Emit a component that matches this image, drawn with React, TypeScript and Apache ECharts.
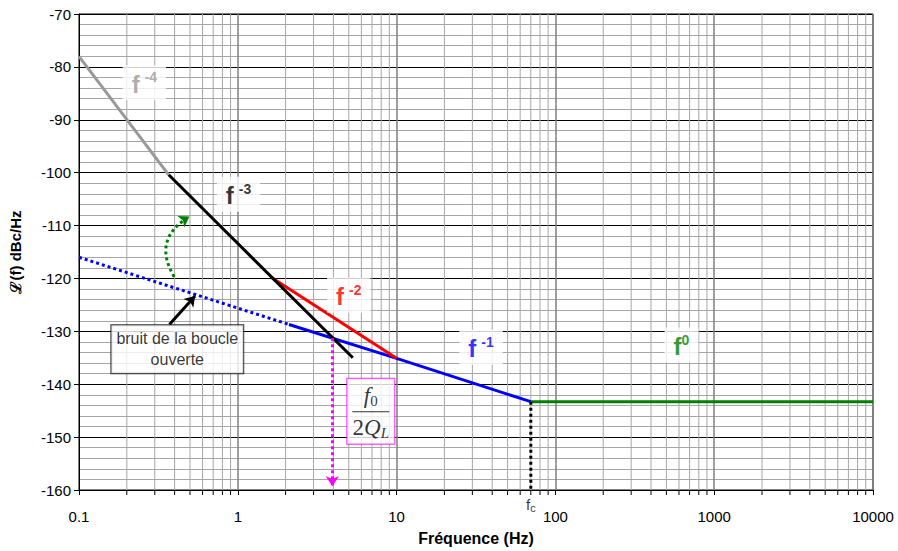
import React, { useEffect, useRef } from "react";
import * as echarts from "echarts";

// ---- data ----
const xMin = 0.1;
const xMax = 10000;
const yMin = -160;
const yMax = -70;
const yInterval = 10;
const minorFreqs = [
  0.2, 0.3, 0.4, 0.5, 0.6, 0.7, 0.8, 0.9,
  2, 3, 4, 5, 6, 7, 8, 9,
  20, 30, 40, 50, 60, 70, 80, 90,
  200, 300, 400, 500, 600, 700, 800, 900,
  2000, 3000, 4000, 5000, 6000, 7000, 8000, 9000,
];
const fc = 70;
const slopeF4 = [[0.1, -78], [0.367, -100.4]];
const slopeF3 = [[0.367, -100.4], [5.3, -135]];
const slopeF2 = [[1.63, -119.8], [10, -135.1]];
const openLoop = [[0.1, -116], [2.1, -128.7]];
const slopeF1 = [[2.1, -128.7], [10, -135.1], [70, -143.3]];
const slopeF0 = [[70, -143.3], [10000, -143.3]];
const fcDrop = [[70, -143.3], [70, -160]];
const magentaArrow = [[3.94, -131.3], [3.94, -159.3]];
const blackArrow = [[0.371, -128.7], [0.538, -123.3]];
const greenArrow = [[0.398, -119.7], [0.496, -108.3]];
const labelF4 = [0.258, -83];
const labelF3 = [1.01, -104.1];
const labelF2 = [5.0, -123.2];
const labelF1 = [34, -133];
const labelF0 = [622, -132.6];
const labelOpen = [0.416, -133.4];
const labelF0Q = [6.88, -145.1];

const FONT = "'Liberation Sans', Arial, sans-serif";
const SERIF = "'Liberation Serif', 'Times New Roman', serif";

function slopeLabel(pos: number[], color: string, sup: string, space: boolean) {
  return {
    value: pos,
    label: {
      show: true,
      position: "inside",
      formatter: `{b|f}${space ? "{sp|}" : ""}{s|${sup}}`,
      backgroundColor: "#ffffff",
      padding: [5, 9, 4, 9],
      rich: {
        b: { fontSize: 24, fontWeight: "bold", color, fontFamily: FONT, lineHeight: 26, verticalAlign: "bottom" },
        sp: { width: 5, lineHeight: 26 },
        s: { fontSize: 14, fontWeight: "bold", color, fontFamily: FONT, lineHeight: 26, verticalAlign: "top", padding: [0, 0, 10, 0] },
      },
    },
  };
}

export default function App() {
  const ref = useRef<HTMLDivElement>(null);
  useEffect(() => {
    document.body.style.margin = "0";
    const chart = echarts.init(ref.current!, null, { renderer: "svg" });
    const lineSeries = (data: number[][], color: string, type: string = "solid", z = 3) => ({
      type: "line",
      data,
      showSymbol: false,
      symbol: "none",
      silent: true,
      z,
      lineStyle: { color, width: 3, type },
    });
    const arrowSeries = (data: number[][], color: string, type: string, curveness = 0) => ({
      type: "lines",
      coordinateSystem: "cartesian2d",
      silent: true,
      z: 5,
      symbol: ["none", "arrow"],
      symbolSize: 10,
      data: [{ coords: data }],
      lineStyle: { color, width: 3, type, curveness, opacity: 1 },
    });
    chart.setOption({
      animation: false,
      grid: { left: 73, top: 14, width: 800, height: 476, show: true, borderColor: "#000", borderWidth: 1 },
      xAxis: {
        type: "log",
        logBase: 10,
        min: xMin,
        max: xMax,
        name: "Fréquence (Hz)",
        nameLocation: "middle",
        nameGap: 40,
        nameTextStyle: { fontSize: 16, fontWeight: "bold", color: "#000", fontFamily: FONT },
        axisLine: { show: true, lineStyle: { color: "#000", width: 1 } },
        axisTick: { show: true, length: 5, inside: false, lineStyle: { color: "#000" } },
        axisLabel: {
          fontSize: 15,
          color: "#000",
          fontFamily: FONT,
          margin: 19,
          formatter: (v: number) => (v < 1 ? v.toFixed(1) : String(Math.round(v))),
        },
        splitLine: { show: true, lineStyle: { color: "#7f7f7f", width: 1.5 } },
        minorTick: { show: false },
      },
      yAxis: {
        type: "value",
        min: yMin,
        max: yMax,
        interval: yInterval,
        name: "ℒ(f) dBc/Hz",
        nameLocation: "middle",
        nameGap: 56,
        nameTextStyle: { fontSize: 15, fontWeight: "bold", color: "#000", fontFamily: FONT },
        axisLine: { show: true, lineStyle: { color: "#000", width: 1 } },
        axisTick: { show: true, length: 5, inside: false, lineStyle: { color: "#000" } },
        axisLabel: { fontSize: 15, color: "#000", fontFamily: FONT, margin: 8 },
        splitLine: { show: true, lineStyle: { color: "#000", width: 1 } },
        minorTick: { show: false, splitNumber: 5 },
        minorSplitLine: { show: true, lineStyle: { color: "#a6a6a6", width: 1 } },
      },
      series: [
        {
          type: "custom",
          silent: true,
          clip: false,
          z: 1,
          data: minorFreqs.map((f) => [f, yMin]),
          encode: { x: 0, y: 1 },
          renderItem: (params: any, api: any) => {
            const f = api.value(0);
            const top = api.coord([f, yMax]);
            const bot = api.coord([f, yMin]);
            return {
              type: "group",
              children: [
                { type: "line", shape: { x1: top[0], y1: top[1], x2: bot[0], y2: bot[1] }, style: { stroke: "#a6a6a6", lineWidth: 1 } },
                { type: "line", shape: { x1: bot[0], y1: bot[1], x2: bot[0], y2: bot[1] + 5 }, style: { stroke: "#000", lineWidth: 1 } },
              ],
            };
          },
        },
        lineSeries(openLoop, "#0000ff", "dotted", 3),
        lineSeries(slopeF1, "#0000ff", "solid", 3),
        lineSeries(slopeF2, "#ff0000", "solid", 4),
        lineSeries(slopeF3, "#000000", "solid", 4),
        lineSeries(slopeF4, "#999999", "solid", 4),
        lineSeries(slopeF0, "#008000", "solid", 4),
        lineSeries(fcDrop, "#000000", "dotted", 4),
        arrowSeries(magentaArrow, "#ff00ff", "dotted"),
        arrowSeries(blackArrow, "#000000", "solid"),
        arrowSeries(greenArrow, "#008000", "dotted", 0.5),
        {
          type: "scatter",
          silent: true,
          symbolSize: 0,
          z: 10,
          data: [
            slopeLabel(labelF4, "#999999", "-4", true),
            slopeLabel(labelF3, "#000000", "-3", true),
            slopeLabel(labelF2, "#ff0000", "-2", true),
            slopeLabel(labelF1, "#0000ff", "-1", true),
            slopeLabel(labelF0, "#008000", "0", false),
            {
              value: labelOpen,
              label: {
                show: true,
                position: "inside",
                formatter: "bruit de la boucle\nouverte",
                backgroundColor: "#ffffff",
                borderColor: "#000",
                borderWidth: 1,
                padding: [3, 5, 3, 5],
                fontSize: 16,
                lineHeight: 21,
                color: "#000",
                fontFamily: FONT,
                align: "center",
              },
            },
            {
              value: labelF0Q,
              label: {
                show: true,
                position: "inside",
                formatter: "{fi|f}{sub|0}\n{bar|}\n{n|2}{fi|Q}{subi|L}",
                backgroundColor: "#ffffff",
                borderColor: "#ff00ff",
                borderWidth: 1,
                padding: [4, 5, 3, 5],
                align: "center",
                rich: {
                  fi: { fontSize: 23, fontStyle: "italic", fontFamily: SERIF, color: "#000", lineHeight: 26 },
                  n: { fontSize: 23, fontFamily: SERIF, color: "#000", lineHeight: 26 },
                  sub: { fontSize: 15, fontFamily: SERIF, color: "#000", lineHeight: 26, verticalAlign: "bottom" },
                  subi: { fontSize: 15, fontStyle: "italic", fontFamily: SERIF, color: "#000", lineHeight: 26, verticalAlign: "bottom" },
                  bar: { width: 37, height: 1, backgroundColor: "#000", lineHeight: 6 },
                },
              },
            },
            {
              value: [fc, yMin],
              label: {
                show: true,
                position: "bottom",
                distance: 7,
                formatter: "{a|f}{b|c}",
                rich: {
                  a: { fontSize: 15, fontFamily: FONT, color: "#000", lineHeight: 16, verticalAlign: "top" },
                  b: { fontSize: 11, fontFamily: FONT, color: "#000", lineHeight: 16, verticalAlign: "bottom", padding: [6, 0, 0, 0] },
                },
              },
            },
          ],
        },
      ],
    });
    return () => chart.dispose();
  }, []);
  return <div ref={ref} style={{ width: 898, height: 551 }} />;
}
